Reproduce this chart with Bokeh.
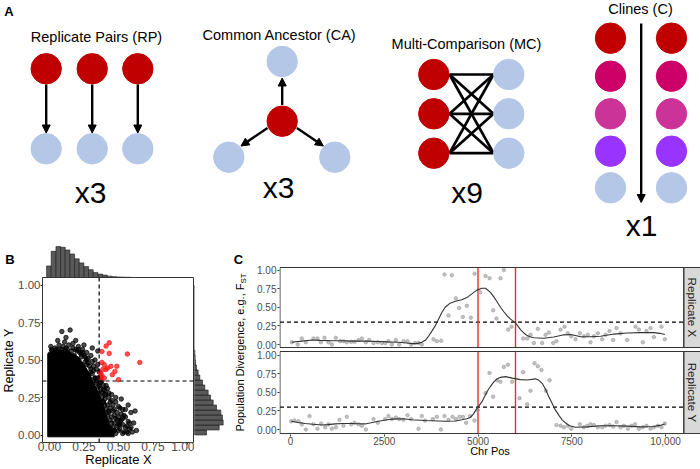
import math
from bokeh.plotting import figure
from bokeh.layouts import column, row
from bokeh.models import (Range1d, ColumnDataSource, Arrow, NormalHead, Span, FixedTicker,
                          LinearAxis)
from bokeh.embed import file_html
from bokeh.resources import INLINE
from bokeh.core.properties import value

FONT = "Liberation Sans"
RED = "#C00000"
BLUE = "#B4C7E7"

# ================= Panel A: schematic (pixel units of the panel) =================
rp_node_x = [45.7, 91.7, 137.3]
rp_red_y = [68.3, 68.3, 68.3]
rp_blue_y = [148.3, 148.3, 148.3]
rp_arrow_y0 = [84.0, 84.0, 84.0]
rp_arrow_y1 = [132.5, 132.5, 132.5]

ca_red_x = [281.7]
ca_red_y = [120.7]
ca_blue_x = [281.7, 228.3, 334.3]
ca_blue_y = [61.0, 156.7, 156.7]
ca_arrow_x0 = [281.7, 267.0, 296.4]
ca_arrow_y0 = [104.5, 127.5, 127.5]
ca_arrow_x1 = [281.7, 240.5, 322.9]
ca_arrow_y1 = [77.5, 145.5, 145.5]

mc_red_x = 433.3
mc_blue_x = 508.3
mc_rows_y = [74.0, 113.3, 152.7]
mc_line_x0 = 449.0
mc_line_x1 = 493.0

cl_col_x = [610.0, 671.0]
cl_rows_y = [37.7, 75.7, 113.3, 150.7, 187.3]
cl_colors = ["#C00000", "#CC0066", "#CC3399", "#9933FF", "#B4C7E7"]
cl_arrow = (640.7, 23.0, 640.7, 202.0)

a_titles = ["Replicate Pairs (RP)", "Common Ancestor (CA)", "Multi-Comparison (MC)", "Clines (C)"]
a_title_x = [96.0, 279.0, 466.0, 640.0]
a_title_y = [36.5, 34.0, 43.0, 8.8]
a_mult = ["x3", "x3", "x9", "x1"]
a_mult_x = [90.0, 278.0, 466.5, 641.0]
a_mult_y = [192.0, 187.0, 191.5, 224.5]

# ================= Panel B data =================
top_hist_center = [0.010, 0.043, 0.077, 0.110, 0.143, 0.177, 0.210, 0.243, 0.277, 0.310,
                   0.343, 0.377, 0.410, 0.443, 0.477, 0.510, 0.543, 0.577, 0.610, 0.643]
top_hist_count = [34, 77, 91, 89, 81, 69, 55, 43, 32, 23, 15, 10, 7, 4, 2.5, 1.5, 1, 0.7, 0.4, 0.3]
right_hist_center = [0.017, 0.050, 0.083, 0.117, 0.150, 0.183, 0.217, 0.250, 0.283, 0.317,
                     0.350, 0.383, 0.417, 0.450, 0.483, 0.517, 0.550]
right_hist_count = [36, 74, 86, 84, 79, 66, 56, 48, 41, 31, 24, 16, 11, 6, 3, 2, 1]
hist_bin_width = 0.0333

core_x = [-0.012, -0.012, 0.03, 0.08, 0.15, 0.21, 0.25, 0.29, 0.32, 0.345, 0.37, 0.39, 0.41, 0.43, 0.45, 0.465, 0.47]
core_y = [-0.012, 0.54, 0.56, 0.565, 0.55, 0.52, 0.47, 0.41, 0.35, 0.30, 0.25, 0.20, 0.14, 0.08, 0.03, 0.0, -0.012]

cloud_x = [0.02, 0.04, 0.06, 0.07, 0.09, 0.11, 0.12, 0.14, 0.16, 0.17, 0.19, 0.21, 0.22, 0.24, 0.25,
           0.27, 0.28, 0.30, 0.31, 0.33, 0.32, 0.34, 0.35, 0.36, 0.37, 0.35, 0.38, 0.39, 0.40, 0.42,
           0.41, 0.43, 0.45, 0.44, 0.46, 0.48, 0.47, 0.49, 0.51, 0.50, 0.52, 0.54, 0.53, 0.55, 0.57,
           0.56, 0.58, 0.60, 0.47, 0.45, 0.44, 0.46, 0.50, 0.42, 0.40, 0.38, 0.29, 0.26, 0.23, 0.18,
           0.13, 0.08, 0.03, 0.09, 0.15, 0.12, 0.19, 0.25, 0.06, 0.35, 0.31, 0.52, 0.57, 0.59, 0.62,
           0.55, 0.63, 0.61, 0.53, 0.49, 0.36, 0.33, 0.30, 0.27, 0.48, 0.43, 0.39, 0.51, 0.47, 0.34,
           0.005, 0.015, 0.05, 0.10, 0.13, 0.17, 0.20, 0.23, 0.26, 0.28, 0.30, 0.31, 0.33, 0.34, 0.35,
           0.37, 0.36, 0.38, 0.39, 0.40, 0.41, 0.43, 0.42, 0.44, 0.45, 0.46, 0.47, 0.48, 0.49, 0.50,
           0.51, 0.52, 0.53, 0.54, 0.55, 0.56, 0.57, 0.58, 0.59, 0.44, 0.46, 0.45, 0.43, 0.41, 0.39,
           0.37, 0.32, 0.27, 0.24, 0.21, 0.11, 0.07, 0.04, 0.01, 0.50, 0.53, 0.48, 0.47, 0.51, 0.40]
cloud_y = [0.56, 0.58, 0.55, 0.60, 0.57, 0.62, 0.58, 0.60, 0.56, 0.61, 0.57, 0.59, 0.55, 0.57, 0.53,
           0.55, 0.51, 0.53, 0.49, 0.50, 0.46, 0.44, 0.47, 0.42, 0.39, 0.38, 0.36, 0.33, 0.30, 0.31,
           0.27, 0.25, 0.27, 0.22, 0.20, 0.22, 0.17, 0.15, 0.18, 0.12, 0.10, 0.13, 0.07, 0.05, 0.09,
           0.02, 0.04, 0.02, 0.08, 0.12, 0.05, 0.02, 0.03, 0.20, 0.24, 0.28, 0.46, 0.49, 0.52, 0.53,
           0.55, 0.53, 0.53, 0.69, 0.70, 0.65, 0.63, 0.60, 0.63, 0.56, 0.58, 0.24, 0.20, 0.15, 0.16,
           0.17, 0.03, 0.08, 0.01, 0.06, 0.33, 0.38, 0.42, 0.47, 0.11, 0.15, 0.22, 0.07, 0.03, 0.36,
           0.54, 0.57, 0.57, 0.59, 0.57, 0.58, 0.56, 0.54, 0.52, 0.48, 0.44, 0.41, 0.38, 0.35, 0.32,
           0.31, 0.28, 0.25, 0.22, 0.20, 0.17, 0.16, 0.13, 0.10, 0.08, 0.05, 0.03, 0.01, 0.10, 0.07,
           0.04, 0.14, 0.11, 0.02, 0.12, 0.06, 0.01, 0.08, 0.05, 0.18, 0.16, 0.23, 0.28, 0.33, 0.30,
           0.35, 0.43, 0.50, 0.55, 0.57, 0.56, 0.57, 0.55, 0.59, 0.19, 0.17, 0.25, 0.13, 0.09, 0.27]

sig_x = [0.433, 0.41, 0.38, 0.433, 0.564, 0.654, 0.38, 0.397, 0.445, 0.421, 0.488, 0.474, 0.386,
         0.371, 0.38, 0.397, 0.374, 0.50, 0.409, 0.455]
sig_y = [0.615, 0.593, 0.556, 0.544, 0.54, 0.484, 0.484, 0.469, 0.458, 0.447, 0.458, 0.424, 0.436,
         0.413, 0.396, 0.38, 0.38, 0.369, 0.436, 0.402]
threshold_b = 0.36

b_ticks = [0, 0.25, 0.5, 0.75, 1.0]
b_tick_labels = ["0.00", "0.25", "0.50", "0.75", "1.00"]

# ================= Panel C data =================
topX_pos = [35, 195, 302, 409, 613, 720, 809, 907, 1013, 1102, 1209, 1324, 1413, 1502, 1618, 1707,
            1813, 1902, 2009, 2098, 2213, 2329, 2436, 2524, 2613, 2702, 2809, 2898, 3013, 3120, 3218,
            3324, 3413, 3502, 3813, 3902, 4018, 4107, 4302, 4213, 4409, 4498, 4596, 4702, 4809, 4907,
            5058, 5200, 5307, 5600, 5689, 5405, 5493, 5805, 5893, 6205, 6312, 6400, 6489, 6595, 6711,
            6800, 6889, 7005, 7093, 7200, 7307, 7395, 7485, 7600, 7715, 7822, 7928, 8000, 8089, 8195,
            8311, 8400, 8507, 8605, 8693, 8800, 8978, 9200, 9289, 9395, 9493, 9600, 9689, 9893, 9982]
topX_val = [0.03, 0.0, 0.08, 0.03, 0.08, 0.08, 0.03, 0.09, 0.03, 0.0, 0.09, 0.045, 0.045, 0.03, 0.036,
            0.036, 0.06, 0.08, 0.03, 0.06, 0.02, 0.03, 0.02, 0.02, 0.045, 0.0, 0.06, 0.0, 0.045, 0.045,
            0.0, 0.02, 0.02, 0.0, 0.07, 0.045, 0.05, 0.94, 0.93, 0.39, 0.62, 0.49, 0.37, 0.52, 0.36,
            0.95, 0.70, 0.92, 0.89, 0.89, 1.0, 0.46, 0.35, 0.20, 0.24, 0.08, 0.08, 0.13, 0.02, 0.21,
            0.02, 0.13, 0.16, 0.02, 0.045, 0.20, 0.24, 0.15, 0.11, 0.07, 0.15, 0.11, 0.13, 0.03, 0.11,
            0.15, 0.07, 0.13, 0.18, 0.06, 0.22, 0.15, 0.06, 0.24, 0.20, 0.03, 0.18, 0.22, 0.10, 0.24, 0.07]
botY_pos = [18, 107, 213, 302, 409, 507, 613, 720, 818, 925, 1013, 1102, 1209, 1307, 1413, 1502, 1618,
            1707, 1813, 1902, 2009, 2213, 2329, 2524, 2613, 2702, 2809, 2898, 3013, 3120, 3218, 3413,
            3502, 3591, 3795, 3902, 4009, 4107, 4213, 4320, 4409, 4507, 4596, 4684, 4791, 4907, 4996,
            5200, 5307, 5405, 5511, 5600, 5689, 5795, 5911, 6107, 6205, 6312, 6400, 6507, 6595, 6693,
            6809, 6907, 7093, 7200, 7289, 7395, 7485, 7715, 7822, 7911, 8000, 8089, 8195, 8311, 8400,
            8507, 8605, 8693, 8800, 8889, 8995, 9093, 9189, 9289, 9395, 9493, 9600, 9689, 9795, 9893, 9982]
botY_val = [0.11, 0.12, 0.11, 0.07, 0.0, 0.18, 0.07, 0.01, 0.08, 0.03, 0.07, 0.01, 0.03, 0.13, 0.05,
            0.17, 0.07, 0.09, 0.07, 0.05, 0.0, 0.14, 0.09, 0.14, 0.18, 0.14, 0.16, 0.14, 0.13, 0.19, 0.14,
            0.01, 0.18, 0.12, 0.14, 0.17, 0.0, 0.18, 0.13, 0.17, 0.14, 0.17, 0.17, 0.09, 0.18, 0.12, 0.26,
            0.49, 0.76, 0.44, 0.66, 0.64, 0.84, 0.87, 0.64, 0.42, 0.77, 0.34, 0.52, 0.89, 0.85, 0.80,
            0.52, 0.66, 0.06, 0.05, 0.03, 0.05, 0.01, 0.07, 0.03, 0.05, 0.07, 0.06, 0.03, 0.03, 0.05,
            0.06, 0.04, 0.10, 0.03, 0.05, 0.01, 0.05, 0.07, 0.01, 0.03, 0.05, 0.01, 0.03, 0.05, 0.03, 0.08]

topX_fit_x = [35, 300, 569, 800, 1102, 1400, 1636, 2000, 2347, 2600, 2880, 3100, 3236, 3400, 3502, 3600,
              3680, 3770, 3858, 3947, 4036, 4124, 4258, 4391, 4569, 4702, 4836, 4969, 5102, 5200, 5333,
              5422, 5511, 5600, 5689, 5778, 5867, 6000, 6133, 6222, 6311, 6400, 6489, 6756, 7022, 7289,
              7467, 7600, 7733, 8000, 8267, 8622, 8978, 9333, 9689, 9850, 9982]
topX_fit_y = [0.03, 0.045, 0.06, 0.055, 0.05, 0.05, 0.045, 0.045, 0.04, 0.035, 0.03, 0.02, 0.012, 0.015,
              0.03, 0.06, 0.11, 0.18, 0.25, 0.34, 0.43, 0.50, 0.555, 0.58, 0.60, 0.63, 0.68, 0.73, 0.755,
              0.755, 0.70, 0.64, 0.57, 0.50, 0.44, 0.385, 0.34, 0.29, 0.20, 0.155, 0.12, 0.10, 0.09, 0.085,
              0.10, 0.13, 0.135, 0.12, 0.105, 0.105, 0.11, 0.14, 0.155, 0.16, 0.16, 0.15, 0.135]
botY_fit_x = [18, 200, 391, 600, 836, 1000, 1191, 1400, 1636, 1800, 1991, 2150, 2347, 2500, 2702, 3013,
              3236, 3591, 4124, 4400, 4569, 4700, 4791, 4880, 4942, 5000, 5102, 5244, 5333, 5422, 5511,
              5600, 5733, 5911, 6133, 6311, 6533, 6622, 6711, 6800, 6889, 6978, 7067, 7156, 7244, 7333,
              7422, 7600, 7911, 8267, 8622, 8978, 9333, 9689, 9850, 9982]
botY_fit_y = [0.11, 0.095, 0.08, 0.07, 0.06, 0.065, 0.075, 0.08, 0.08, 0.077, 0.075, 0.09, 0.11, 0.125,
              0.14, 0.145, 0.13, 0.12, 0.11, 0.115, 0.13, 0.145, 0.16, 0.21, 0.26, 0.30, 0.37, 0.51, 0.58,
              0.64, 0.68, 0.70, 0.71, 0.69, 0.67, 0.665, 0.68, 0.66, 0.62, 0.54, 0.44, 0.35, 0.26, 0.19,
              0.13, 0.09, 0.055, 0.03, 0.035, 0.05, 0.05, 0.045, 0.035, 0.04, 0.055, 0.075]

region_bounds = [5000, 6000]
threshold_c = 0.3
c_xticks = [0, 2500, 5000, 7500, 10000]
c_xtick_labels = ["0", "2500", "5000", "7500", "10,000"]
c_yticks = [0, 0.25, 0.5, 0.75, 1.0]
c_ytick_labels = ["0.00", "0.25", "0.50", "0.75", "1.00"]
facet_names = ["Replicate X", "Replicate Y"]


# ---------------------------------------------------------------------------
def base_fig(**kw):
    p = figure(toolbar_location=None, output_backend="svg", x_axis_location=None,
               y_axis_location=None, background_fill_color="white", border_fill_color="white",
               outline_line_color=None, **kw)
    p.grid.visible = False
    return p


def style_axis(ax, size, tick_out=2, standoff=0):
    ax.major_tick_out = tick_out
    ax.major_tick_in = 0
    ax.minor_tick_line_color = None
    ax.axis_line_color = None
    ax.major_tick_line_color = "#333333"
    ax.major_label_text_font = FONT
    ax.major_label_text_font_size = size
    ax.major_label_text_color = "#4D4D4D"
    ax.major_label_standoff = standoff


def style_title(ax, text, size, standoff):
    ax.axis_label = text
    ax.axis_label_text_font = FONT
    ax.axis_label_text_font_size = size
    ax.axis_label_text_font_style = "normal"
    ax.axis_label_text_color = "black"
    ax.axis_label_standoff = standoff


# ================= Panel A figure =================
pA = base_fig(width=700, height=240, x_range=Range1d(0, 700), y_range=Range1d(240, 0), min_border=0)
R = 15.2
pA.circle(x=rp_node_x, y=rp_red_y, radius=R, color=RED)
pA.circle(x=rp_node_x, y=rp_blue_y, radius=R, color=BLUE)
pA.circle(x=ca_red_x, y=ca_red_y, radius=R, color=RED)
pA.circle(x=ca_blue_x, y=ca_blue_y, radius=R, color=BLUE)
mx0, my0, mx1, my1 = [], [], [], []
for yr in mc_rows_y:
    for yb in mc_rows_y:
        mx0.append(mc_line_x0); my0.append(yr); mx1.append(mc_line_x1); my1.append(yb)
pA.segment(x0=mx0, y0=my0, x1=mx1, y1=my1, line_color="black", line_width=2.7)
pA.circle(x=[mc_red_x] * 3, y=mc_rows_y, radius=R, color=RED)
pA.circle(x=[mc_blue_x] * 3, y=mc_rows_y, radius=R, color=BLUE)
for cx in cl_col_x:
    pA.circle(x=[cx] * 5, y=cl_rows_y, radius=R, color=cl_colors)

arrow_src = ColumnDataSource(dict(
    x0=rp_node_x + ca_arrow_x0 + [cl_arrow[0]],
    y0=rp_arrow_y0 + ca_arrow_y0 + [cl_arrow[1]],
    x1=rp_node_x + ca_arrow_x1 + [cl_arrow[2]],
    y1=rp_arrow_y1 + ca_arrow_y1 + [cl_arrow[3]],
))
pA.add_layout(Arrow(end=NormalHead(size=8, fill_color="black", line_color="black", line_width=1),
                    x_start="x0", y_start="y0", x_end="x1", y_end="y1", source=arrow_src,
                    line_width=2.4, line_color="black"))
pA.text(x=a_title_x, y=a_title_y, text=a_titles, text_font=value(FONT), text_font_size="14.5px",
        text_align="center", text_baseline="middle", text_color="black")
pA.text(x=a_mult_x, y=a_mult_y, text=a_mult, text_font=value(FONT), text_font_size="30px",
        text_align="center", text_baseline="middle", text_color="black")
pA.text(x=[8.5], y=[11.0], text=["A"], text_font=value(FONT), text_font_size="13px",
        text_font_style="bold", text_align="center", text_baseline="middle", text_color="black")

# ================= Panel B =================
# text strip on the left (panel letter and y title), coordinates y = 469 - pixel row
pBt = base_fig(width=15, height=229, x_range=Range1d(0, 15), y_range=Range1d(0, 229), min_border=0)
pBt.text(x=[9.5], y=[210], text=["B"], text_font=value(FONT), text_font_size="13px",
         text_font_style="bold", text_align="center", text_baseline="middle")
pBt.text(x=[8.8], y=[109], text=["Replicate Y"], text_font=value(FONT), text_font_size="12.5px",
         text_align="center", text_baseline="middle", angle=math.pi / 2)

BX = Range1d(-0.05, 1.05)
BY = Range1d(-0.05, 1.05)
hw = hist_bin_width / 2.0

bTop = base_fig(width=215, height=37, x_range=BX, y_range=Range1d(0, 100),
                min_border_left=25, min_border_right=36, min_border_top=3, min_border_bottom=0)
bTop.segment(x0=[top_hist_center[0] - hw], y0=[0], x1=[1.0], y1=[0], line_color="#333333", line_width=0.8)
bTop.quad(left=[c - hw for c in top_hist_center], right=[c + hw for c in top_hist_center],
          bottom=0, top=top_hist_count, fill_color="#595959", line_color="#1A1A1A", line_width=0.6)

bMain = base_fig(width=179, height=192, x_range=BX, y_range=BY,
                 min_border_left=25, min_border_right=0, min_border_top=0, min_border_bottom=27)
bMain.outline_line_color = "#333333"
bMain.outline_line_width = 1
bMain.add_layout(LinearAxis(), "below")
bMain.add_layout(LinearAxis(), "left")
style_axis(bMain.xaxis[0], "12px", tick_out=2, standoff=-3)
style_axis(bMain.yaxis[0], "11.5px", tick_out=2, standoff=0)
for ax in (bMain.xaxis[0], bMain.yaxis[0]):
    ax.ticker = FixedTicker(ticks=b_ticks)
    ax.major_label_overrides = {t: l for t, l in zip(b_ticks, b_tick_labels)}
style_title(bMain.xaxis[0], "Replicate X", "13px", -2)
bMain.patch(x=core_x, y=core_y, fill_color="black", line_color="black", line_width=1)
bMain.scatter(x=cloud_x, y=cloud_y, size=4.5, color="black", alpha=0.7)
bMain.scatter(x=sig_x, y=sig_y, size=4.5, color="#FF1A1A", alpha=0.75)
bMain.add_layout(Span(location=threshold_b, dimension="height", line_color="black",
                      line_dash="4 3", line_width=1.2))
bMain.add_layout(Span(location=threshold_b, dimension="width", line_color="black",
                      line_dash="4 3", line_width=1.2))

bRight = base_fig(width=36, height=192, x_range=Range1d(0, 99), y_range=BY,
                  min_border_left=0, min_border_right=3, min_border_top=0, min_border_bottom=27)
bRight.segment(x0=[0], y0=[0], x1=[0], y1=[1.0], line_color="#333333", line_width=0.8)
bRight.quad(bottom=[c - hw for c in right_hist_center], top=[c + hw for c in right_hist_center],
            left=0, right=right_hist_count, fill_color="#595959", line_color="#1A1A1A", line_width=0.6)

# ================= Panel C =================
C_TOP, C_BOTTOM = 10, 35          # borders of both C figures (frames get aligned in a row)
# text strip on the left: frame covers rows 250..434, data y = 469 - pixel row
pCt = base_fig(width=22, height=229, x_range=Range1d(230, 252), y_range=Range1d(35, 219),
               min_border_left=0, min_border_right=0, min_border_top=C_TOP, min_border_bottom=C_BOTTOM)
pCt.text(x=[238], y=[210], text=["C"], text_font=value(FONT), text_font_size="13px",
         text_font_style="bold", text_align="center", text_baseline="middle")
pCt.text(x=[239.5], y=[186], text=["Population Divergence, e.g., F"], text_font=value(FONT),
         text_font_size="11px", text_align="right", text_baseline="middle", angle=math.pi / 2)
pCt.text(x=[242.8], y=[186], text=["ST"], text_font=value(FONT), text_font_size="8px",
         text_align="left", text_baseline="middle", angle=math.pi / 2)

OFF = 1.141
X_LEFT, PANEL_LEFT, PANEL_RIGHT, STRIP_RIGHT = -293.3, -280, 10488, 10933
facet_bottom = [OFF - 0.040, -0.054]
facet_top = [OFF + 1.034, 1.047]
pC = base_fig(width=448, height=229, x_range=Range1d(X_LEFT, STRIP_RIGHT), y_range=Range1d(-0.067, 2.403),
              min_border_left=27, min_border_right=0, min_border_top=C_TOP, min_border_bottom=C_BOTTOM)
pC.add_layout(LinearAxis(), "below")
pC.add_layout(LinearAxis(), "left")
style_axis(pC.xaxis[0], "10px", tick_out=2, standoff=0)
style_axis(pC.yaxis[0], "10px", tick_out=2, standoff=1)
pC.xaxis[0].ticker = FixedTicker(ticks=c_xticks)
pC.xaxis[0].major_label_overrides = {t: l for t, l in zip(c_xticks, c_xtick_labels)}
style_title(pC.xaxis[0], "Chr Pos", "11px", -3)
yt = c_yticks + [t + OFF for t in c_yticks]
pC.yaxis[0].ticker = FixedTicker(ticks=yt)
pC.yaxis[0].major_label_overrides = {t: l for t, l in zip(yt, c_ytick_labels + c_ytick_labels)}

pC.quad(left=PANEL_RIGHT, right=STRIP_RIGHT + 50, bottom=facet_bottom, top=facet_top,
        fill_color="#D9D9D9", line_color="#333333", line_width=1)
pC.segment(x0=[PANEL_LEFT, PANEL_LEFT], x1=[PANEL_RIGHT, PANEL_RIGHT],
           y0=[threshold_c + OFF, threshold_c], y1=[threshold_c + OFF, threshold_c],
           line_color="black", line_dash="4 3", line_width=1.2)
vx, vy0, vy1 = [], [], []
for b, t in zip(facet_bottom, facet_top):
    for r in region_bounds:
        vx.append(r); vy0.append(b); vy1.append(t)
pC.segment(x0=vx, x1=vx, y0=vy0, y1=vy1, line_color="#F0282D", line_width=1.4)
pC.scatter(x=topX_pos, y=[v + OFF for v in topX_val], size=3.5, color="#9A9A9A", alpha=0.6)
pC.scatter(x=botY_pos, y=botY_val, size=3.5, color="#9A9A9A", alpha=0.6)
pC.line(x=topX_fit_x, y=[v + OFF for v in topX_fit_y], line_color="#333333", line_width=1.1)
pC.line(x=botY_fit_x, y=botY_fit_y, line_color="#333333", line_width=1.1)
pC.quad(left=PANEL_LEFT, right=PANEL_RIGHT, bottom=facet_bottom, top=facet_top,
        fill_color=None, line_color="#333333", line_width=1)
strip_mid = (PANEL_RIGHT + STRIP_RIGHT) / 2
pC.text(x=[strip_mid, strip_mid], y=[(facet_bottom[0] + facet_top[0]) / 2, (facet_bottom[1] + facet_top[1]) / 2],
        text=facet_names, text_font=value(FONT), text_font_size="11.7px", text_color="#1A1A1A",
        text_align="center", text_baseline="middle", angle=-math.pi / 2)

layout = column(pA, row(row(pBt, column(bTop, row(bMain, bRight))), row(pCt, pC)))
open("out.html", "w").write(file_html(layout, INLINE))
